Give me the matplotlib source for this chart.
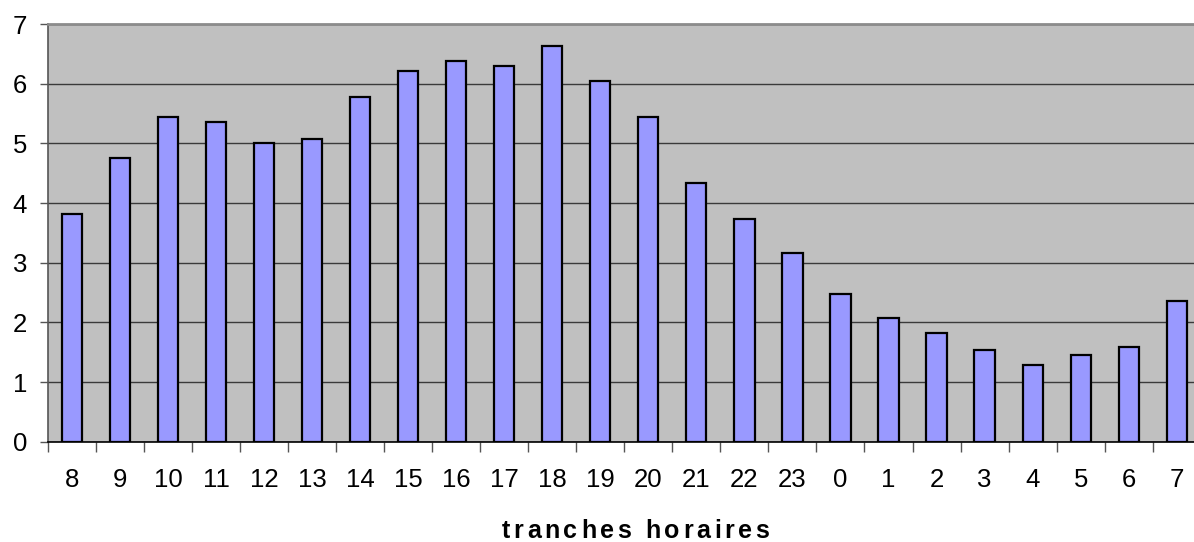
import matplotlib
matplotlib.use("Agg")
import matplotlib.pyplot as plt
from matplotlib import font_manager as fm
from matplotlib.ft2font import FT2Font
from matplotlib.ticker import FixedLocator

# Hour slots (starting at 8h, wrapping past midnight) and their values
hours = ["8", "9", "10", "11", "12", "13", "14", "15", "16", "17", "18", "19",
         "20", "21", "22", "23", "0", "1", "2", "3", "4", "5", "6", "7"]
values = [3.82, 4.76, 5.44, 5.36, 5.00, 5.08, 5.77, 6.21, 6.38, 6.29, 6.63, 6.05,
          5.44, 4.34, 3.73, 3.17, 2.47, 2.07, 1.82, 1.54, 1.29, 1.46, 1.58, 2.35]
y_ticks = [0, 1, 2, 3, 4, 5, 6, 7]
x_title = "tranches horaires"

W, H = 1194, 542
plt.rcParams["font.family"] = ["Liberation Sans", "DejaVu Sans"]

fig = plt.figure(figsize=(W / 100, H / 100), dpi=100)
fig.patch.set_facecolor("white")

left_px, right_px, top_px, bottom_px = 48, 1200.7, 24, 441.7
ax = fig.add_axes([left_px / W, 1 - bottom_px / H,
                   (right_px - left_px) / W, (bottom_px - top_px) / H])
ax.set_facecolor("#c0c0c0")

x = list(range(len(hours)))
ax.bar(x, values, width=0.42, color="#9999ff", edgecolor="black",
       linewidth=1.6, zorder=3)

ax.set_xlim(-0.5, len(hours) - 0.5)
ax.set_ylim(0, 7)

# horizontal grid
ax.set_yticks(y_ticks)
ax.yaxis.grid(True, color="#3a3a3a", linewidth=1.0, zorder=1)
ax.set_axisbelow(True)

# category labels at centres, tick marks at category boundaries
ax.xaxis.set_major_locator(FixedLocator(x))
ax.set_xticklabels(hours)
ax.xaxis.set_minor_locator(FixedLocator([i - 0.5 for i in range(len(hours) + 1)]))
ax.tick_params(axis="x", which="major", length=0, pad=19, labelsize=18.5,
               colors="black")
ax.tick_params(axis="x", which="minor", length=7, width=1.0, color="#555555",
               direction="out")
ax.tick_params(axis="y", which="major", length=6, width=1.0, color="#555555",
               pad=9, labelsize=18.5, labelcolor="black")

for side in ("top", "right"):
    ax.spines[side].set_color("#8c8c8c")
    ax.spines[side].set_linewidth(2.0)
ax.spines["left"].set_color("#555555")
ax.spines["left"].set_linewidth(1.2)
ax.spines["bottom"].set_color("black")
ax.spines["bottom"].set_linewidth(1.2)

# letter-spaced bold axis title
title_size = 18
spacing_px = 3.6
prop = fm.FontProperties(family="Liberation Sans", weight="bold", size=title_size)
ft = FT2Font(fm.findfont(prop), hinting_factor=1)
ft.set_size(title_size, 100)
advances = []
for ch in x_title:
    g = ft.load_char(ord(ch))
    advances.append(g.linearHoriAdvance / 65536.0)
total = sum(advances) + spacing_px * (len(x_title) - 1)
cx, baseline = 635.5, 538.0
xpos = cx - total / 2
for ch, adv in zip(x_title, advances):
    fig.text(xpos / W, 1 - baseline / H, ch, fontproperties=prop,
             ha="left", va="baseline", color="black")
    xpos += adv + spacing_px

fig.savefig("out.png", dpi=100, facecolor="white")
